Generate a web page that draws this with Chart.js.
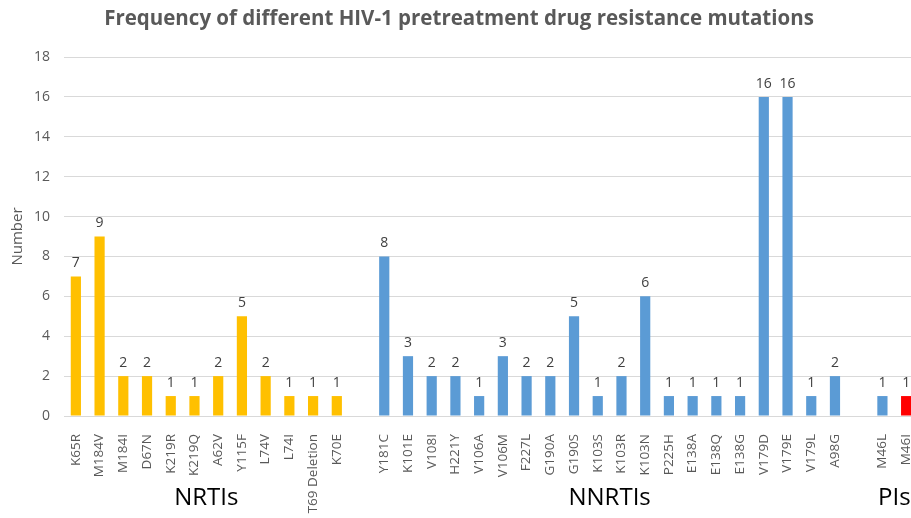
<!DOCTYPE html>
<html>
<head>
<meta charset="utf-8">
<script src="https://cdn.jsdelivr.net/npm/chart.js@4/dist/chart.umd.min.js"></script>
<style>
  html, body { margin: 0; padding: 0; background: #fff; overflow: hidden; }
  #chart { display: block; }
</style>
</head>
<body>
<canvas id="chart" width="922" height="518"></canvas>
<script>
// categories ('' = spacer between drug classes)
const labels = [
  'K65R', 'M184V', 'M184I', 'D67N', 'K219R', 'K219Q', 'A62V', 'Y115F', 'L74V', 'L74I', 'T69 Deletion', 'K70E',
  '',
  'Y181C', 'K101E', 'V108I', 'H221Y', 'V106A', 'V106M', 'F227L', 'G190A', 'G190S', 'K103S', 'K103R', 'K103N',
  'P225H', 'E138A', 'E138Q', 'E138G', 'V179D', 'V179E', 'V179L', 'A98G',
  '',
  'M46L', 'M46I'
];
const counts = [
  7, 9, 2, 2, 1, 1, 2, 5, 2, 1, 1, 1,
  null,
  8, 3, 2, 2, 1, 3, 2, 2, 5, 1, 2, 6,
  1, 1, 1, 1, 16, 16, 1, 2,
  null,
  1, 1
];
const barColors = [
  ...Array(12).fill('#FFC000'),
  '#ffffff',
  ...Array(20).fill('#5B9BD5'),
  '#ffffff',
  '#5B9BD5', '#FF0000'
];
const groups = [
  { name: 'NRTIs', from: 0, to: 11 },
  { name: 'NNRTIs', from: 13, to: 32 },
  { name: 'PIs', from: 34, to: 35 }
];
const yTicks = [0, 2, 4, 6, 8, 10, 12, 14, 16, 18];

const font = '"Open Sans", sans-serif';

// value labels above each bar
const valueLabels = {
  id: 'valueLabels',
  afterDatasetsDraw(chart) {
    const ctx = chart.ctx;
    const meta = chart.getDatasetMeta(0);
    ctx.save();
    ctx.font = '14px ' + font;
    ctx.fillStyle = '#404040';
    ctx.textAlign = 'center';
    ctx.textBaseline = 'bottom';
    meta.data.forEach((bar, i) => {
      if (counts[i] == null) return;
      ctx.fillText(String(counts[i]), bar.x, bar.y - 6);
    });
    ctx.restore();
  }
};

// drug class names under the tick labels
const groupLabels = {
  id: 'groupLabels',
  afterDraw(chart) {
    const ctx = chart.ctx;
    const x = chart.scales.x;
    ctx.save();
    ctx.font = '24px ' + font;
    ctx.fillStyle = '#000000';
    ctx.textAlign = 'center';
    ctx.textBaseline = 'middle';
    groups.forEach(g => {
      const cx = (x.getPixelForValue(g.from) + x.getPixelForValue(g.to)) / 2;
      ctx.fillText(g.name, cx, 498);
    });
    ctx.restore();
  }
};

new Chart(document.getElementById('chart'), {
  type: 'bar',
  data: {
    labels: labels,
    datasets: [{
      data: counts,
      backgroundColor: barColors,
      categoryPercentage: 1,
      barPercentage: 0.43
    }]
  },
  options: {
    responsive: false,
    animation: false,
    layout: { padding: { top: 0, right: 4, bottom: 0, left: 0 } },
    plugins: {
      legend: { display: false },
      tooltip: { enabled: false },
      title: {
        display: true,
        text: 'Frequency of different HIV-1 pretreatment drug resistance mutations',
        color: '#595959',
        font: { family: font, size: 20.5, weight: 'bold' },
        padding: { top: 7, bottom: 25.4 }
      }
    },
    scales: {
      x: {
        afterFit(axis) {
          axis.height = 102;
          axis.paddingLeft = 0;
          axis.paddingRight = 0;
        },
        grid: { display: false },
        border: { color: '#d9d9d9' },
        ticks: {
          color: '#595959',
          font: { family: font, size: 13.5 },
          maxRotation: 90,
          minRotation: 90,
          autoSkip: false,
          padding: 10
        }
      },
      y: {
        min: 0,
        max: 18,
        afterBuildTicks(axis) { axis.ticks = yTicks.map(v => ({ value: v })); },
        afterFit(axis) { axis.width = 64; },
        grid: { color: '#d9d9d9', drawTicks: false },
        border: { display: false },
        ticks: {
          color: '#595959',
          font: { family: font, size: 14 },
          padding: 14
        },
        title: {
          display: true,
          text: 'Number',
          color: '#595959',
          font: { family: font, size: 15 },
          padding: { top: 9, bottom: 2 }
        }
      }
    }
  },
  plugins: [valueLabels, groupLabels]
});
</script>
</body>
</html>
